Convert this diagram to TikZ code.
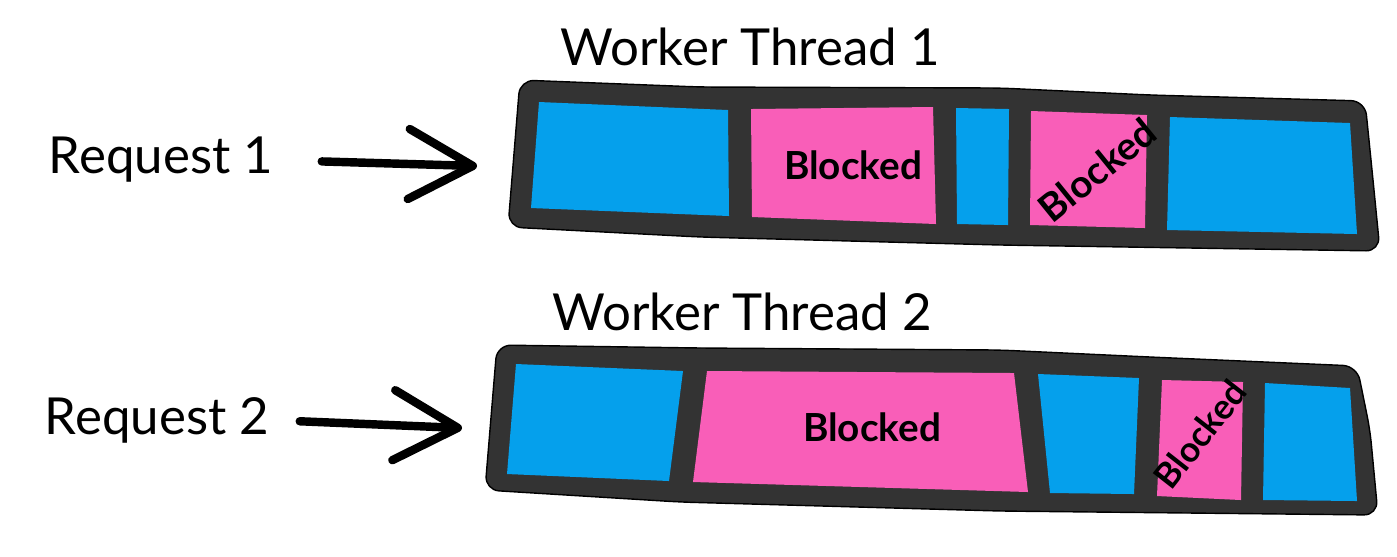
\documentclass[tikz,border=0pt]{standalone}
\usepackage{fontspec}
\setmainfont{Lato}
\usepackage{tikz}
\usetikzlibrary{arrows.meta, positioning}
\definecolor{runblue}{HTML}{05A0EC}
\definecolor{waitpink}{HTML}{F95EB8}
\definecolor{framegray}{HTML}{333333}

\begin{document}
\begin{tikzpicture}[x=0.01cm, y=-0.01cm,
  title/.style={font=\fontsize{14.5}{17}\selectfont, inner sep=0pt},
  tag/.style={font=\fontsize{11}{13}\selectfont\bfseries, inner sep=0pt},
  flow/.style={line width=2.4pt, line cap=round, -{Straight Barb[length=0.64cm, width=0.7cm, round]}},
  bar/.style={fill=framegray, rounded corners=0.14cm},
  busy/.style={fill=runblue},
  blocked/.style={fill=waitpink}]

\useasboundingbox (0,0) rectangle (1397,556);

% Labels
\node[title] (wt1) at (750,47) {Worker Thread 1};
\node[title] (wt2) at (742,312) {Worker Thread 2};
\node[title] (req1) at (161,160) {Request 1};
\node[title] (req2) at (157,420) {Request 2};

% Thread 1 bar
\draw[bar] (520,80) -- (700,87) -- (1000,88) -- (1150,95) -- (1365,101)
  -- (1372,170) -- (1380,251) -- (1000,245) -- (700,237) -- (508,227) -- cycle;
\fill[busy] (539,102) -- (728,110) -- (729,216) -- (531,208) -- cycle;
\fill[blocked] (751,109) -- (933,107) -- (936,224) -- (752,217) -- cycle;
\fill[busy] (956,108) -- (1009,109) -- (1008,225) -- (957,224) -- cycle;
\fill[blocked] (1031,111) -- (1147,115) -- (1145,228) -- (1030,225) -- cycle;
\fill[busy] (1170,117) -- (1350,123) -- (1357,234) -- (1167,230) -- cycle;
\node[tag] (blk1) at (853,165) {Blocked};
\node[tag, rotate=39] (blk2) at (1097,170) {Blocked};

% Thread 2 bar
\draw[bar] (497,345) -- (700,348) -- (1000,350) -- (1150,357) -- (1357,366)
  -- (1370,430) -- (1378,515) -- (1000,511) -- (680,502) -- (485,490) -- cycle;
\fill[busy] (516,364) -- (683,371) -- (669,481) -- (507,474) -- cycle;
\fill[blocked] (707,371) -- (1014,373) -- (1028,492) -- (693,482) -- cycle;
\fill[busy] (1038,374) -- (1139,378) -- (1134,494) -- (1050,493) -- cycle;
\fill[blocked] (1162,380) -- (1243,382) -- (1241,500) -- (1157,496) -- cycle;
\fill[busy] (1265,383) -- (1350,388) -- (1357,501) -- (1263,500) -- cycle;
\node[tag] (blk3) at (872,427) {Blocked};
\node[tag, rotate=52, font=\fontsize{10}{12}\selectfont\bfseries] (blk4) at (1200,434) {Blocked};

% Requests into threads
\coordinate (in1) at (477,166);
\coordinate (in2) at (462,428);
\draw[flow, shorten <=0.48cm] (req1.east) -- (in1);
\draw[flow, shorten <=0.3cm] (req2.east) -- (in2);

\end{tikzpicture}
\end{document}
